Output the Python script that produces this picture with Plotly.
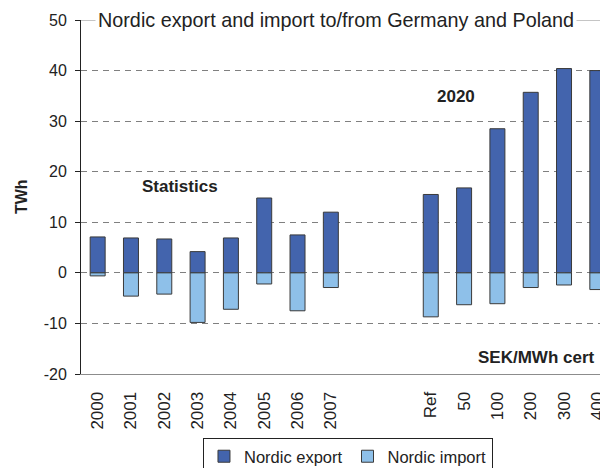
import plotly.graph_objects as go

categories = ["2000", "2001", "2002", "2003", "2004", "2005", "2006", "2007",
              " ", "  ", "Ref", "50", "100", "200", "300", "400"]
export_cats = ["2000", "2001", "2002", "2003", "2004", "2005", "2006", "2007",
               "Ref", "50", "100", "200", "300", "400"]
nordic_export = [7.1, 6.9, 6.7, 4.2, 6.9, 14.8, 7.5, 12.0,
                 15.5, 16.8, 28.5, 35.7, 40.4, 40.0]
nordic_import = [-0.6, -4.6, -4.2, -9.8, -7.2, -2.2, -7.5, -2.9,
                 -8.7, -6.3, -6.1, -2.9, -2.4, -3.3]
y_ticks = [-20, -10, 0, 10, 20, 30, 40, 50]
y_tick_labels = ["-20", "-10", "0", "10", "20", "30", "40", "50"]
boundary_ticks = [i + 0.5 for i in range(len(categories) - 1)]

FONT = "Liberation Sans, Arial, sans-serif"
TXT = "#222222"
EXPORT_C = "#4364AD"
IMPORT_C = "#8EC0E9"
EDGE = "#3a3a3a"

fig = go.Figure()
fig.add_trace(go.Bar(x=export_cats, y=nordic_export, name="Nordic export",
                     marker=dict(color=EXPORT_C, line=dict(color=EDGE, width=1)),
                     width=0.45))
fig.add_trace(go.Bar(x=export_cats, y=nordic_import, name="Nordic import",
                     marker=dict(color=IMPORT_C, line=dict(color=EDGE, width=1)),
                     width=0.45))

x_range = [-0.5, 15.32]

fig.update_layout(
    width=600, height=460,
    margin=dict(l=73, r=0, t=12, b=94, pad=0, autoexpand=False),
    paper_bgcolor="white", plot_bgcolor="white",
    barmode="relative",
    font=dict(family=FONT, size=16, color=TXT),
    showlegend=True,
    legend=dict(orientation="h", x=0.5066, xanchor="center",
                y=-0.1808, yanchor="top",
                bordercolor=TXT, borderwidth=1, bgcolor="white",
                font=dict(family=FONT, size=16.5, color=TXT),
                itemwidth=30, traceorder="normal"),
    xaxis=dict(type="category", categoryorder="array", categoryarray=categories,
               range=x_range, tickangle=-90, ticks="", showgrid=False,
               showline=True, linecolor="#8c8c8c", linewidth=1,
               tickfont=dict(family=FONT, size=17, color=TXT),
               ticklabelstandoff=10, zeroline=False, automargin=False),
    xaxis2=dict(overlaying="x", anchor="free", position=20 / 70, side="bottom",
                range=x_range, tickmode="array", tickvals=boundary_ticks,
                ticks="outside", ticklen=6, tickcolor="#555555", tickwidth=1,
                showticklabels=False, showline=True, linecolor="#8c8c8c",
                linewidth=1, showgrid=False, zeroline=False),
    yaxis=dict(range=[-20, 50], tickmode="array", tickvals=y_ticks,
               ticktext=y_tick_labels,
               ticks="outside", ticklen=5, tickcolor="#222222",
               showline=True, linecolor="#222222", linewidth=1,
               showgrid=True, gridcolor="#808080", gridwidth=1,
               griddash="6px,5px", zeroline=False, automargin=False,
               tickfont=dict(family=FONT, size=16, color=TXT),
               ticklabelstandoff=5),
)

# solid line at the top value behind the title
fig.add_shape(type="line", xref="paper", yref="y", x0=0, x1=1, y0=50, y1=50,
              line=dict(color="#8c8c8c", width=1), layer="above")

fig.add_annotation(text="Nordic export and import to/from Germany and Poland",
                   xref="paper", yref="paper", x=0.4839, y=1,
                   xanchor="center", yanchor="middle", showarrow=False,
                   bgcolor="white", borderpad=2,
                   font=dict(family=FONT, size=19.8, color=TXT))
fig.add_annotation(text="<b>TWh</b>", xref="paper", yref="paper",
                   x=(21 - 81) / 527, y=0.5, textangle=-90,
                   xanchor="center", yanchor="middle", showarrow=False,
                   font=dict(family=FONT, size=16, color=TXT))
fig.add_annotation(text="<b>Statistics</b>", xref="paper", yref="paper",
                   x=0.1879, y=0.5297, xanchor="center", yanchor="middle",
                   showarrow=False, font=dict(family=FONT, size=17, color=TXT))
fig.add_annotation(text="<b>2020</b>", xref="paper", yref="paper",
                   x=0.7116, y=0.7853, xanchor="center", yanchor="middle",
                   showarrow=False, font=dict(family=FONT, size=17, color=TXT))
fig.add_annotation(text="<b>SEK/MWh cert</b>", xref="paper", yref="paper",
                   x=0.8634, y=0.046, xanchor="center", yanchor="middle",
                   showarrow=False, font=dict(family=FONT, size=17, color=TXT))

fig.write_html("out.html")
